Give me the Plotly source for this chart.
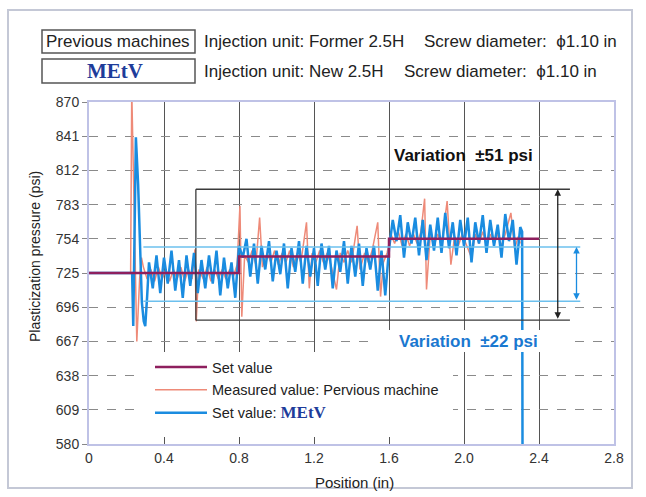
import plotly.graph_objects as go

# ---------------- data ----------------
set_x = [0.0, 0.80, 0.80, 1.60, 1.60, 2.40]
set_y = [725, 725, 739, 739, 754, 754]

blue_x = [0.00, 0.23, 0.236, 0.25, 0.262, 0.272, 0.282, 0.292, 0.30, 0.31,
          0.32, 0.34, 0.36, 0.38, 0.40, 0.42, 0.44, 0.46, 0.48, 0.50,
          0.52, 0.54, 0.56, 0.58, 0.60, 0.62, 0.64, 0.66, 0.68, 0.70,
          0.72, 0.74, 0.76, 0.78, 0.80, 0.82, 0.84, 0.86, 0.88, 0.90,
          0.92, 0.94, 0.96, 0.98, 1.00, 1.02, 1.04, 1.06, 1.08, 1.10,
          1.12, 1.14, 1.16, 1.18, 1.20, 1.22, 1.24, 1.26, 1.28, 1.30,
          1.32, 1.34, 1.36, 1.38, 1.40, 1.42, 1.44, 1.46, 1.48, 1.50,
          1.52, 1.54, 1.56, 1.58, 1.60, 1.62, 1.64, 1.66, 1.68, 1.70,
          1.72, 1.74, 1.76, 1.78, 1.80, 1.82, 1.84, 1.86, 1.88, 1.90,
          1.92, 1.94, 1.96, 1.98, 2.00, 2.02, 2.04, 2.06, 2.08, 2.10,
          2.12, 2.14, 2.16, 2.18, 2.20, 2.22, 2.24, 2.26, 2.28, 2.30,
          2.31, 2.312]
blue_y = [725, 725, 680, 840, 800, 748, 700, 684, 680, 705,
          734, 712, 740, 708, 738, 716, 744, 710, 736, 704,
          740, 714, 742, 708, 736, 712, 740, 716, 744, 706,
          738, 712, 734, 704, 748, 738, 754, 722, 750, 716,
          748, 728, 752, 718, 744, 724, 750, 712, 746, 726,
          752, 716, 748, 722, 746, 714, 750, 728, 748, 712,
          744, 726, 752, 716, 748, 722, 750, 714, 746, 728,
          748, 710, 744, 706, 745, 770, 752, 774, 738, 768,
          750, 772, 740, 770, 736, 766, 744, 772, 742, 776,
          746, 768, 740, 770, 748, 772, 734, 768, 750, 774,
          742, 770, 748, 766, 738, 775, 752, 770, 732, 764,
          760, 580]

red_x = [0.00, 0.222, 0.228, 0.242, 0.255, 0.27, 0.28, 0.29, 0.31, 0.33,
         0.35, 0.37, 0.39, 0.41, 0.43, 0.45, 0.47, 0.49, 0.51, 0.53,
         0.55, 0.565, 0.572, 0.585, 0.61, 0.63, 0.65, 0.67, 0.69, 0.71,
         0.73, 0.75, 0.77, 0.79, 0.805, 0.815, 0.83, 0.85, 0.87, 0.89,
         0.91, 0.925, 0.95, 0.97, 0.99, 1.01, 1.03, 1.05, 1.07, 1.09,
         1.11, 1.13, 1.16, 1.175, 1.19, 1.21, 1.23, 1.25, 1.27, 1.29,
         1.32, 1.34, 1.36, 1.38, 1.40, 1.43, 1.445, 1.47, 1.49, 1.51,
         1.54, 1.555, 1.57, 1.59, 1.61, 1.63, 1.65, 1.67, 1.69, 1.71,
         1.73, 1.75, 1.77, 1.79, 1.80, 1.82, 1.84, 1.86, 1.88, 1.91,
         1.93, 1.95, 1.97, 1.99, 2.01, 2.04, 2.06, 2.08, 2.10, 2.12,
         2.14, 2.16, 2.18, 2.20, 2.22, 2.25, 2.27, 2.29, 2.30]
red_y = [725, 725, 880, 760, 667, 720, 738, 730, 720, 728,
         718, 730, 720, 728, 718, 728, 720, 730, 718, 728,
         720, 745, 684, 728, 720, 730, 718, 728, 720, 728,
         720, 728, 722, 732, 782, 688, 740, 734, 744, 732,
         772, 730, 742, 734, 744, 732, 742, 734, 744, 730,
         742, 734, 768, 712, 742, 734, 744, 734, 742, 732,
         711, 742, 734, 744, 734, 765, 728, 742, 734, 744,
         768, 705, 734, 742, 758, 750, 760, 748, 758, 748,
         758, 750, 760, 788, 711, 758, 748, 758, 748, 786,
         732, 756, 748, 758, 750, 738, 758, 750, 760, 748,
         758, 750, 758, 748, 758, 776, 746, 756, 750]

y_ticks = [580, 609, 638, 667, 696, 725, 754, 783, 812, 841, 870]
x_ticks = [0, 0.4, 0.8, 1.2, 1.6, 2.0, 2.4, 2.8]
x_tick_text = ["0", "0.4", "0.8", "1.2", "1.6", "2.0", "2.4", "2.8"]

band_black = [685, 796]
band_black_x = [0.57, 2.565]
band_blue = [701, 747]
band_blue_x = [0.29, 2.62]

# ---------------- figure ----------------
FONT = "Liberation Sans, Arial, Helvetica, sans-serif"
SERIF = "Liberation Serif, Times New Roman, serif"
PURPLE = "#8E1F5E"
SALMON = "#EE8A78"
BLUE = "#1A8CE0"
LOGO = "<span style='font-family:Liberation Serif, serif; font-size:17px; color:#1E3C9A'><b>MEtV</b></span>"

L, R, T, B = 89, 614, 102, 444  # plot-area pixel box

fig = go.Figure()
fig.add_trace(go.Scatter(x=red_x, y=red_y, mode="lines", name="Measured value: Pervious machine",
                         line=dict(color=SALMON, width=1.5), legendrank=2, legendgroup="b"))
fig.add_trace(go.Scatter(x=blue_x, y=blue_y, mode="lines", name="Set value: " + LOGO,
                         line=dict(color=BLUE, width=2.5), legendrank=3, legendgroup="c"))
fig.add_trace(go.Scatter(x=set_x, y=set_y, mode="lines", name="Set value",
                         line=dict(color=PURPLE, width=2.5), legendrank=1, legendgroup="a"))

def px2paper_x(p):
    return (p - L) / float(R - L)

def px2paper_y(p):
    return (B - p) / float(B - T)

shapes = []
# white backings that hide gridlines
shapes.append(dict(type="rect", xref="paper", yref="paper", layer="above",
                   x0=px2paper_x(140), x1=px2paper_x(453), y0=px2paper_y(437), y1=px2paper_y(352),
                   fillcolor="white", line=dict(width=0)))
shapes.append(dict(type="rect", xref="paper", yref="paper", layer="above",
                   x0=px2paper_x(372), x1=px2paper_x(566), y0=px2paper_y(352), y1=px2paper_y(330),
                   fillcolor="white", line=dict(width=0)))
# black variation bracket
for yv in band_black:
    shapes.append(dict(type="line", xref="x", yref="y", x0=band_black_x[0], x1=band_black_x[1],
                       y0=yv, y1=yv, line=dict(color="#3A3A3A", width=1.3)))
shapes.append(dict(type="line", xref="x", yref="y", x0=band_black_x[0], x1=band_black_x[0],
                   y0=band_black[0], y1=band_black[1], line=dict(color="#3A3A3A", width=1.3)))
# blue variation band
for yv in band_blue:
    shapes.append(dict(type="line", xref="x", yref="y", x0=band_blue_x[0], x1=band_blue_x[1],
                       y0=yv, y1=yv, line=dict(color="#6CC0EE", width=1.5)))
# outer frame
shapes.append(dict(type="rect", xref="paper", yref="paper", layer="below",
                   x0=px2paper_x(8), x1=px2paper_x(632), y0=px2paper_y(488), y1=px2paper_y(10),
                   line=dict(color="#C4C8D6", width=2)))
# header boxes
shapes.append(dict(type="rect", xref="paper", yref="paper",
                   x0=px2paper_x(42), x1=px2paper_x(195), y0=px2paper_y(53), y1=px2paper_y(30),
                   line=dict(color="#555555", width=1.5)))
shapes.append(dict(type="rect", xref="paper", yref="paper",
                   x0=px2paper_x(42), x1=px2paper_x(195), y0=px2paper_y(83), y1=px2paper_y(59),
                   line=dict(color="#555555", width=1.5)))

def note(x, y, text, size, color="#222", family=FONT, xanchor="center"):
    return dict(xref="paper", yref="paper", x=px2paper_x(x), y=px2paper_y(y), text=text,
                showarrow=False, xanchor=xanchor, yanchor="middle",
                font=dict(family=family, size=size, color=color))

annotations = [
    note(118, 42, "Previous machines", 17),
    note(115, 71.5, "<b>MEtV</b>", 21, color="#1E3C9A", family=SERIF),
    note(202, 42, "Injection unit: Former 2.5H", 17, xanchor="left"),
    note(422, 42, "Screw diameter:&nbsp; ϕ1.10 in", 17, xanchor="left"),
    note(202, 71, "Injection unit: New 2.5H", 17, xanchor="left"),
    note(402, 71, "Screw diameter:&nbsp; ϕ1.10 in", 17, xanchor="left"),
    note(392, 155, "<b>Variation&nbsp; ±51 psi</b>", 17, color="#111", xanchor="left"),
    note(397, 341, "<b>Variation&nbsp; ±22 psi</b>", 17, color="#1A78D0", xanchor="left"),
    # axis titles placed explicitly
    note(354, 483, "Position (in)", 15),
    dict(xref="paper", yref="paper", x=px2paper_x(35), y=px2paper_y(257), text="Plasticization pressure (psi)",
         showarrow=False, xanchor="center", yanchor="middle", textangle=-90,
         font=dict(family=FONT, size=14, color="#222")),
    # double arrows
    dict(xref="x", yref="y", axref="x", ayref="y", x=2.50, y=band_black[1], ax=2.50, ay=band_black[0],
         text="", showarrow=True, arrowhead=2, startarrowhead=2, arrowside="end+start",
         arrowsize=1, arrowwidth=1.3, arrowcolor="#222"),
    dict(xref="x", yref="y", axref="x", ayref="y", x=2.60, y=band_blue[1], ax=2.60, ay=band_blue[0],
         text="", showarrow=True, arrowhead=2, startarrowhead=2, arrowside="end+start",
         arrowsize=1, arrowwidth=1.3, arrowcolor=BLUE),
]

fig.update_layout(
    width=646, height=497,
    margin=dict(l=L, r=646 - R, t=T, b=497 - B, autoexpand=False),
    paper_bgcolor="white", plot_bgcolor="white",
    font=dict(family=FONT, size=14, color="#222"),
    shapes=shapes, annotations=annotations,
    showlegend=True,
    legend=dict(x=px2paper_x(150), y=px2paper_y(351), xanchor="left", yanchor="top",
                bgcolor="rgba(255,255,255,0)", borderwidth=0, itemwidth=52,
                tracegroupgap=1,
                font=dict(family=FONT, size=14.5, color="#222"), traceorder="grouped"),
)
fig.update_xaxes(range=[0, 2.8], tickvals=x_ticks, ticktext=x_tick_text,
                 showgrid=True, gridcolor="#555555", gridwidth=1,
                 showline=True, linecolor="#BFC2E6", linewidth=2, mirror=True,
                 ticks="inside", ticklen=6, tickcolor="#555", zeroline=False, automargin=False,
                 tickfont=dict(size=14, color="#333"))
fig.update_yaxes(range=[580, 870], tickvals=y_ticks,
                 showgrid=True, gridcolor="#8A8A8A", gridwidth=1, griddash="dash",
                 showline=True, linecolor="#BFC2E6", linewidth=2, mirror=True,
                 ticks="outside", ticklen=5, tickcolor="#888", zeroline=False, automargin=False,
                 tickfont=dict(size=14, color="#333"))

fig.write_html("out.html", config={"displayModeBar": False},
               post_script="document.body.style.margin='0px';")
